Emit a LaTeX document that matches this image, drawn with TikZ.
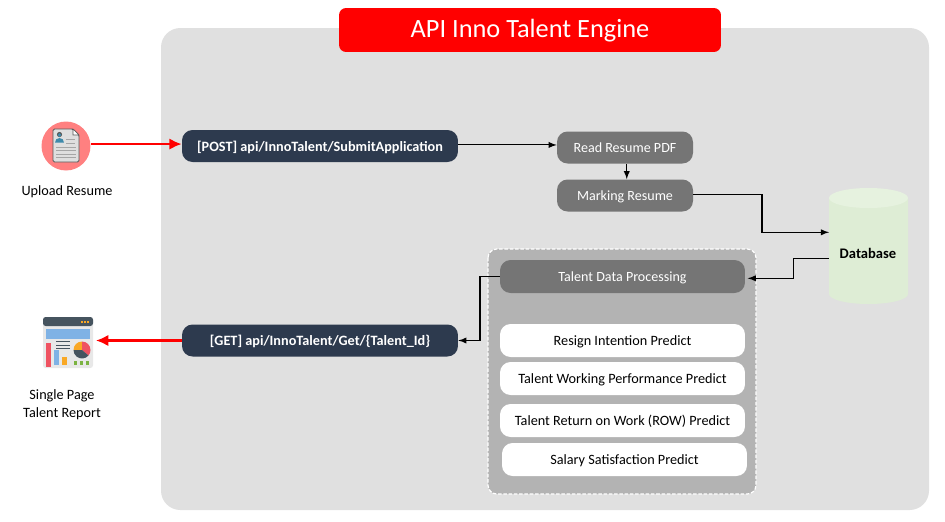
\documentclass[tikz,border=0pt]{standalone}
\usepackage{fontspec}
\setmainfont{Carlito}
\usetikzlibrary{arrows,arrows.meta,positioning,shapes.geometric}
\definecolor{panelgrey}{HTML}{E0E0E0}
\definecolor{boxgrey}{HTML}{B3B3B3}
\definecolor{stepgrey}{HTML}{757575}
\definecolor{apinavy}{HTML}{2D3A4E}
\definecolor{dbgreen}{HTML}{DEEDD5}
\definecolor{dbtop}{HTML}{E6F2DF}
\definecolor{iconhead}{HTML}{46545F}
\definecolor{iconblue}{HTML}{7FB2E5}
\definecolor{iconred}{HTML}{EF5261}
\definecolor{iconorange}{HTML}{F9A825}
\definecolor{icongreen}{HTML}{7CB342}
\tikzset{
	apibox/.style={fill=apinavy, text=white, rounded corners=6pt, minimum width=5.52cm, minimum height=0.64cm, text height=7pt, text depth=1.3pt, font=\fontsize{8.1}{9}\selectfont\bfseries},
	stepbox/.style={fill=stepgrey, text=white, rounded corners=6pt, minimum width=2.72cm, minimum height=0.64cm, text height=7pt, text depth=1.3pt, font=\fontsize{8}{9}\selectfont},
	predictbox/.style={fill=white, text=black, rounded corners=6pt, minimum width=4.9cm, minimum height=0.66cm, text height=7pt, text depth=1.3pt, font=\fontsize{8.1}{9}\selectfont},
	caption/.style={align=center, font=\fontsize{8.1}{10.2}\selectfont},
	link/.style={->, black, line width=0.6pt},
	redlink/.style={-{Latex[length=7pt,width=6.5pt]}, red, line width=1.3pt}
}
\begin{document}
\begin{tikzpicture}[>=latex, x=0.02cm, y=-0.02cm]
	\useasboundingbox (0,0) rectangle (945,521);
	%Sfondo
	\fill [panelgrey, rounded corners=11pt] (161,28) rectangle (929,510);
	\node [fill=red, text=white, rounded corners=4pt, minimum width=7.64cm, minimum height=0.88cm, text height=12pt, text depth=3pt, font=\fontsize{15}{16}\selectfont] (title) at (530,30) {API Inno Talent Engine};
	\draw [white, dash pattern=on 2pt off 1pt, fill=boxgrey, rounded corners=5pt, line width=0.7pt] (488,249) rectangle (756,494);
	%Nodi API
	\node [apibox] (post) at (320,146) {[POST] api/InnoTalent/SubmitApplication};
	\node [apibox] (get) at (320,340.5) {[GET] api/InnoTalent/Get/\{Talent\_Id\}};
	%Passi
	\node [stepbox] (read) at (625,147.5) {Read Resume PDF};
	\node [stepbox] (marking) at (625,195.5) {Marking Resume};
	\node [stepbox, minimum width=4.9cm, minimum height=0.66cm] (process) at (622.5,276.5) {Talent Data Processing};
	%Predizioni
	\node [predictbox] (resign) at (622.5,340.5) {Resign Intention Predict};
	\node [predictbox] (working) at (622.5,378.5) {Talent Working Performance Predict};
	\node [predictbox] (return) at (622.5,420.5) {Talent Return on Work (ROW) Predict};
	\node [predictbox] (salary) at (624.5,459.5) {Salary Satisfaction Predict};
	%Database
	\fill [dbgreen] (829,198) -- (829,294) arc [start angle=180, end angle=0, x radius=39.5, y radius=10] -- (908,198) -- cycle;
	\fill [dbtop] (868.5,198) ellipse [x radius=39.5, y radius=10];
	\node [font=\fontsize{8.3}{9}\selectfont\bfseries] (database) at (868,253) {Database};
	\coordinate (dbin) at (829,232.3);
	\coordinate (dbout) at (829,258.3);
	\coordinate (processin) at (747.7,278.3);
	\coordinate (markingout) at (693,194.7);
	%Icona curriculum
	\node [circle, fill=red!50, minimum size=0.98cm, inner sep=0pt] (resume) at (66,146) {};
	\fill [gray!25, draw=black!65, line width=0.5pt, rounded corners=0.8pt] (53,129) -- (73,129) -- (79,135) -- (79,162) -- (53,162) -- cycle;
	\fill [white, draw=black!65, line width=0.3pt] (73,129) -- (79,135) -- (73,135) -- cycle;
	\fill [black!65] (59.5,134.5) circle [radius=2.6];
	\fill [cyan!65!black] (59.5,135) circle [radius=1.8];
	\fill [cyan!65!black] (55,142.5) arc [start angle=180, end angle=360, x radius=4.5, y radius=4.5] -- cycle;
	\foreach \ya in {147,150.5,154,157.5}
		\draw [gray!70, line width=0.5pt] (56,\ya) -- (76,\ya);
	\foreach \ya in {139,143}
		\draw [gray!70, line width=0.5pt] (66,\ya) -- (75,\ya);
	\node [caption] (uploadlabel) at (67,192) {Upload Resume};
	%Icona report
	\coordinate (report) at (96,340.5);
	\fill [gray!18, rounded corners=1.5pt] (43,317) rectangle (93,368);
	\fill [iconhead, rounded corners=1.5pt] (43,317) rectangle (93,326);
	\foreach \xa in {81,84,87}
		\fill [iconorange] (\xa,321) rectangle +(2,2);
	\fill [iconblue] (46,329) rectangle (90,339);
	\fill [iconred] (46,343) rectangle (51,367);
	\fill [iconblue] (54,350) rectangle (59,365);
	\fill [iconorange] (62,357) rectangle (67,365);
	\foreach \ya in {341.5,345,348.5}
		\draw [iconhead, line width=0.4pt] (56,\ya) -- (70,\ya);
	\fill [iconorange] (82,350) -- +(180:8.5) arc [start angle=180, end angle=270, radius=8.5] -- cycle;
	\fill [iconred] (82,350) -- +(270:8.5) arc [start angle=270, end angle=400, radius=8.5] -- cycle;
	\fill [iconhead] (82,350) -- +(40:8.5) arc [start angle=40, end angle=180, radius=8.5] -- cycle;
	\foreach \xa in {73.5,79.5,85.5}
		\fill [icongreen] (\xa,361) rectangle +(3.5,3.5);
	\node [caption] (reportlabel) at (62,404.5) {Single Page\\Talent Report};
	%Collegamenti
	\draw [redlink] ([yshift=1.1pt]resume.east |- post.west) -- ([yshift=1.1pt]post.west);
	\draw [link] ([yshift=0.6pt]post.east) -- ([yshift=0.6pt]read.west |- post.east);
	\draw [link] ([xshift=1pt]read.south) -- ([xshift=1pt]marking.north);
	\draw [link] (markingout) -- (762,194.7) -- (762,232.3) -- (dbin);
	\draw [link] (dbout) -- (793.5,258.3) -- (793.5,278.3) -- (processin);
	\draw [link] (process.west) -- (480,276.5) -- (480,340.5) -- (get.east);
	\draw [redlink] (get.west) -- (report);
\end{tikzpicture}
\end{document}
